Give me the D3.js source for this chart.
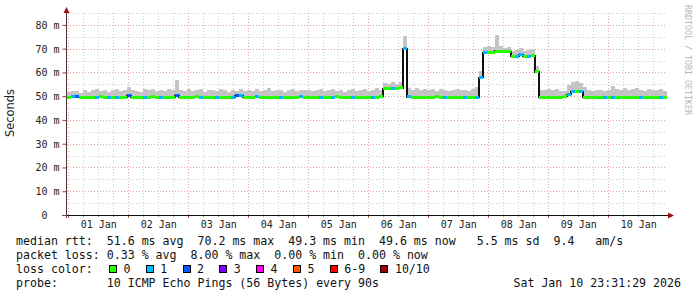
<!DOCTYPE html>
<html>
<head>
<meta charset="utf-8">
<script src="https://cdn.jsdelivr.net/npm/d3@7"></script>
<style>
body { margin: 0; background: #fff; }
svg text { font-family: "DejaVu Sans Mono", monospace; white-space: pre; }
</style>
</head>
<body>
<div class="chart"></div>
<script>
const w = 697;
const h = 297;
const plotLeft = 67, plotRight = 667, plotTop = 13, plotBottom = 215;

// ten days ending at the probe time, 150 bins of 96 minutes
const start = new Date(Date.UTC(2025, 11, 31, 23, 31, 29));
const end = new Date(Date.UTC(2026, 0, 10, 23, 31, 29));
const binMinutes = 96;

// median rtt per bin (ms), one row per day
const median = [
  49.6, 49.7, 49.9, 49.6, 49.6, 49.5, 49.6, 49.6, 49.7, 49.6, 49.6, 49.5, 49.6, 49.6, 49.6,
  50.4, 49.6, 49.6, 49.5, 49.6, 49.6, 49.7, 49.6, 49.6, 49.6, 49.5, 49.6, 50.3, 49.6, 49.6,
  49.6, 49.6, 49.7, 49.6, 49.6, 49.5, 49.6, 49.6, 49.6, 49.6, 49.6, 49.6, 50.2, 50.1, 49.6,
  49.6, 49.6, 49.7, 49.6, 49.6, 49.6, 49.5, 49.6, 49.6, 49.6, 49.6, 49.6, 49.6, 49.7, 49.6,
  49.6, 49.6, 49.5, 49.6, 49.6, 49.6, 49.6, 49.7, 49.6, 49.6, 49.6, 49.6, 49.6, 49.6, 49.5,
  49.6, 49.6, 49.6, 49.8, 53.2, 53.4, 53.3, 53.3, 53.5, 70.2, 49.7, 49.6, 49.6, 49.6, 49.6,
  49.6, 49.6, 49.7, 49.6, 49.6, 49.6, 49.6, 49.5, 49.6, 49.6, 49.6, 49.6, 49.6, 58.0, 68.3,
  68.4, 68.3, 69.0, 68.8, 68.7, 68.6, 66.9, 66.8, 67.6, 66.9, 66.8, 67.0, 60.2, 49.6, 49.6,
  49.5, 49.6, 49.6, 49.6, 49.9, 50.6, 51.9, 52.0, 51.9, 49.6, 49.6, 49.6, 49.6, 49.6, 49.6,
  49.6, 49.6, 49.6, 49.6, 49.6, 49.6, 49.6, 49.6, 49.6, 49.6, 49.6, 49.6, 49.6, 49.6, 49.6
];

// highest ping per bin (ms), top of the smoke
const smokeMax = [
  51.8, 52.3, 52.0, 51.5, 52.6, 51.9, 52.4, 53.1, 52.2, 52.8, 51.7, 52.5, 53.0, 52.1, 52.4,
  54.0, 52.6, 52.2, 51.8, 52.9, 52.4, 53.2, 52.0, 52.7, 52.3, 53.0, 52.5, 56.6, 52.8, 52.2,
  52.9, 52.0, 52.6, 53.2, 51.9, 52.4, 52.8, 52.1, 53.0, 52.5, 51.8, 52.7, 52.3, 53.1, 52.2,
  52.6, 52.0, 52.9, 52.3, 52.7, 53.3, 52.1, 52.5, 52.8, 51.9, 52.6, 53.0, 52.2, 52.7, 52.4,
  52.8, 52.2, 52.6, 53.1, 52.0, 52.5, 52.9, 52.3, 52.7, 51.8, 52.4, 53.0, 52.1, 52.6, 52.9,
  52.3, 52.8, 53.4, 52.6, 55.6, 55.0, 56.0, 55.2, 55.8, 75.5, 53.6, 52.8, 53.4, 52.5, 53.0,
  52.4, 52.9, 52.2, 53.1, 52.6, 52.0, 52.8, 53.2, 52.4, 52.7, 52.1, 52.9, 54.0, 60.5, 70.8,
  71.2, 70.6, 75.8, 71.0, 70.4, 70.9, 68.9, 69.4, 70.2, 69.0, 69.5, 69.8, 62.5, 52.8, 52.4,
  53.0, 52.6, 52.9, 52.3, 52.0, 54.8, 55.8, 56.4, 55.6, 53.9, 52.6, 52.2, 52.8, 52.4, 52.0,
  52.6, 54.2, 53.0, 52.8, 53.6, 52.4, 52.9, 53.3, 52.6, 52.2, 52.9, 52.4, 52.7, 53.0, 52.3
];

// lost pings (of 10) per bin
const loss = [
  0, 1, 2, 0, 0, 0, 0, 1, 0, 0, 1, 0, 1, 0, 0,
  2, 0, 0, 0, 1, 0, 0, 0, 1, 0, 0, 0, 2, 0, 0,
  0, 0, 0, 1, 0, 0, 0, 1, 0, 0, 0, 1, 2, 1, 0,
  0, 0, 1, 0, 0, 0, 0, 0, 1, 0, 0, 0, 0, 1, 0,
  0, 0, 0, 1, 0, 0, 1, 0, 0, 0, 0, 1, 0, 0, 0,
  0, 1, 0, 0, 0, 0, 1, 0, 0, 1, 1, 0, 0, 0, 0,
  0, 0, 0, 0, 1, 0, 0, 0, 0, 1, 0, 0, 1, 1, 1,
  0, 0, 0, 0, 0, 0, 0, 1, 1, 0, 1, 0, 0, 0, 0,
  0, 0, 0, 0, 0, 1, 1, 0, 1, 0, 0, 0, 0, 0, 1,
  0, 1, 0, 0, 0, 0, 0, 0, 1, 0, 0, 0, 0, 1, 0
];

const lossLabels = ["0", "1", "2", "3", "4", "5", "6-9", "10/10"];
const lossColors = ["#26ff00", "#00b8ff", "#0059ff", "#7e00ff", "#ff00ff", "#ff5500", "#ff0000", "#a10000"];

const yTicks = [0, 10, 20, 30, 40, 50, 60, 70, 80];
const yLabel = "Seconds";
const rttLine = "median rtt:  51.6 ms avg  70.2 ms max  49.3 ms min  49.6 ms now   5.5 ms sd  9.4   am/s";
const lossLine = "packet loss: 0.33 % avg  8.00 % max  0.00 % min  0.00 % now";
const probeLine = "probe:       10 ICMP Echo Pings (56 Bytes) every 90s";
const stampText = "Sat Jan 10 23:31:29 2026";
const watermark = "RRDTOOL / TOBI OETIKER";

function lossColor(n) {
  if (n >= 10) return lossColors[7];
  if (n >= 6) return lossColors[6];
  return lossColors[n];
}

const binTime = i => new Date(start.getTime() + i * binMinutes * 60000);

const svg = d3.select(".chart")
  .append("svg")
  .attr("width", w)
  .attr("height", h)
  .style("display", "block");

svg.append("rect").attr("width", w).attr("height", h).attr("fill", "#fff");

const x = d3.scaleUtc().domain([start, end]).range([plotLeft, plotRight]);
const y = d3.scaleLinear().domain([0, 85]).range([plotBottom, plotTop]);

// grid
const grid = svg.append("g").attr("shape-rendering", "crispEdges");
const minorCol = "#cfcfcf", majorCol = "#dda7a7";

x.ticks(d3.utcHour.every(6)).forEach(t => {
  const major = t.getUTCHours() === 0;
  const px = Math.round(x(t)) + 0.5;
  grid.append("line")
    .attr("x1", px).attr("x2", px)
    .attr("y1", plotTop).attr("y2", plotBottom)
    .attr("stroke", major ? majorCol : minorCol)
    .attr("stroke-dasharray", "1,2");
});

d3.range(5, 86, 5).forEach(v => {
  const major = v % 10 === 0;
  const py = Math.round(y(v)) + 0.5;
  grid.append("line")
    .attr("x1", plotLeft).attr("x2", plotRight)
    .attr("y1", py).attr("y2", py)
    .attr("stroke", major ? majorCol : minorCol)
    .attr("stroke-dasharray", "1,2");
});

// smoke
const bins = median.map((m, i) => ({ i, m, hi: smokeMax[i], loss: loss[i] }));
const plot = svg.append("g").attr("shape-rendering", "crispEdges");

plot.selectAll(".smoke")
  .data(bins)
  .enter()
  .append("rect")
  .attr("class", "smoke")
  .attr("x", d => x(binTime(d.i)))
  .attr("width", d => x(binTime(d.i + 1)) - x(binTime(d.i)))
  .attr("y", d => y(d.hi))
  .attr("height", d => y(d.m) - y(d.hi))
  .attr("fill", "#c4c4c4");

// median step line
const steps = bins.map(d => [binTime(d.i), d.m]);
steps.push([end, median[median.length - 1]]);
plot.append("path")
  .datum(steps)
  .attr("fill", "none")
  .attr("stroke", "#111")
  .attr("stroke-width", 1.3)
  .attr("d", d3.line().x(d => x(d[0])).y(d => y(d[1])).curve(d3.curveStepAfter));

// median band coloured by loss
plot.selectAll(".med")
  .data(bins)
  .enter()
  .append("rect")
  .attr("class", "med")
  .attr("x", d => x(binTime(d.i)))
  .attr("width", d => x(binTime(d.i + 1)) - x(binTime(d.i)))
  .attr("y", d => y(d.m) - 1.5)
  .attr("height", 3)
  .attr("fill", d => lossColor(d.loss));

// axes
const axis = svg.append("g").attr("shape-rendering", "crispEdges");

x.ticks(d3.utcHour.every(6)).forEach(t => {
  const major = t.getUTCHours() === 0;
  const px = Math.round(x(t)) + 0.5;
  axis.append("line")
    .attr("x1", px).attr("x2", px)
    .attr("y1", plotBottom).attr("y2", plotBottom + (major ? 3 : 2))
    .attr("stroke", major ? "#b05050" : "#999");
});

axis.append("line")
  .attr("x1", 62).attr("x2", 670)
  .attr("y1", plotBottom + 0.5).attr("y2", plotBottom + 0.5)
  .attr("stroke", "#111");
axis.append("line")
  .attr("x1", plotLeft - 0.5).attr("x2", plotLeft - 0.5)
  .attr("y1", 218).attr("y2", 10)
  .attr("stroke", "#4a3535");

svg.append("path")
  .attr("d", "M668,212.5 L674,215.5 L668,218.5 Z")
  .attr("fill", "#a01010");
svg.append("path")
  .attr("d", "M63.5,13 L66.5,7 L69.5,13 Z")
  .attr("fill", "#a01010");

const yAxis = d3.axisLeft(y)
  .tickValues(yTicks)
  .tickSize(4)
  .tickPadding(3)
  .tickFormat(d => d === 0 ? "0  " : d + " m");

const yg = svg.append("g")
  .attr("transform", "translate(" + (plotLeft - 0.5) + ",0)")
  .call(yAxis);
yg.select(".domain").remove();
yg.selectAll(".tick line").attr("stroke", "#8a4040");
yg.selectAll(".tick text")
  .attr("font-size", "10px")
  .attr("font-family", "DejaVu Sans Mono")
  .attr("fill", "#222")
  .attr("dy", "0.35em");

const noons = d3.utcDay.range(new Date(Date.UTC(2026, 0, 1)), new Date(Date.UTC(2026, 0, 11)))
  .map(d => new Date(d.getTime() + 12 * 3600000));
const xAxis = d3.axisBottom(x)
  .tickValues(noons)
  .tickSize(0)
  .tickPadding(0)
  .tickFormat(d3.utcFormat("%d %b"));

const xg = svg.append("g")
  .attr("transform", "translate(0," + plotBottom + ")")
  .call(xAxis);
xg.select(".domain").remove();
xg.selectAll(".tick text")
  .attr("font-size", "10px")
  .attr("font-family", "DejaVu Sans Mono")
  .attr("fill", "#222")
  .attr("dy", null)
  .attr("y", 13);

// vertical label and watermark
svg.append("text")
  .attr("transform", "translate(14,113) rotate(-90)")
  .attr("text-anchor", "middle")
  .style("font-family", "'DejaVu Sans', sans-serif")
  .attr("font-size", "11.4px")
  .attr("fill", "#222")
  .text(yLabel);

svg.append("text")
  .attr("transform", "translate(685,5) rotate(90)")
  .attr("font-size", "8.3px")
  .attr("fill", "#b8b8b8")
  .text(watermark);

// legend
const legend = svg.append("g").attr("font-size", "11.6px").attr("fill", "#111");
legend.append("text").attr("x", 16).attr("y", 245).text(rttLine);
legend.append("text").attr("x", 16).attr("y", 259).text(lossLine);
legend.append("text").attr("x", 16).attr("y", 273).text("loss color:");
legend.append("text").attr("x", 16).attr("y", 287).text(probeLine);
legend.append("text").attr("x", 681).attr("y", 287).attr("text-anchor", "end").text(stampText);

let sx = 109;
lossLabels.forEach((lab, i) => {
  legend.append("rect")
    .attr("x", sx + 0.5).attr("y", 265.5)
    .attr("width", 7).attr("height", 7)
    .attr("fill", lossColors[i])
    .attr("stroke", "#000")
    .attr("stroke-width", 1)
    .attr("shape-rendering", "crispEdges");
  legend.append("text").attr("x", sx + 14.5).attr("y", 273).text(lab);
  sx += 14.5 + 6.98 * lab.length + 15.3;
});
</script>
</body>
</html>
